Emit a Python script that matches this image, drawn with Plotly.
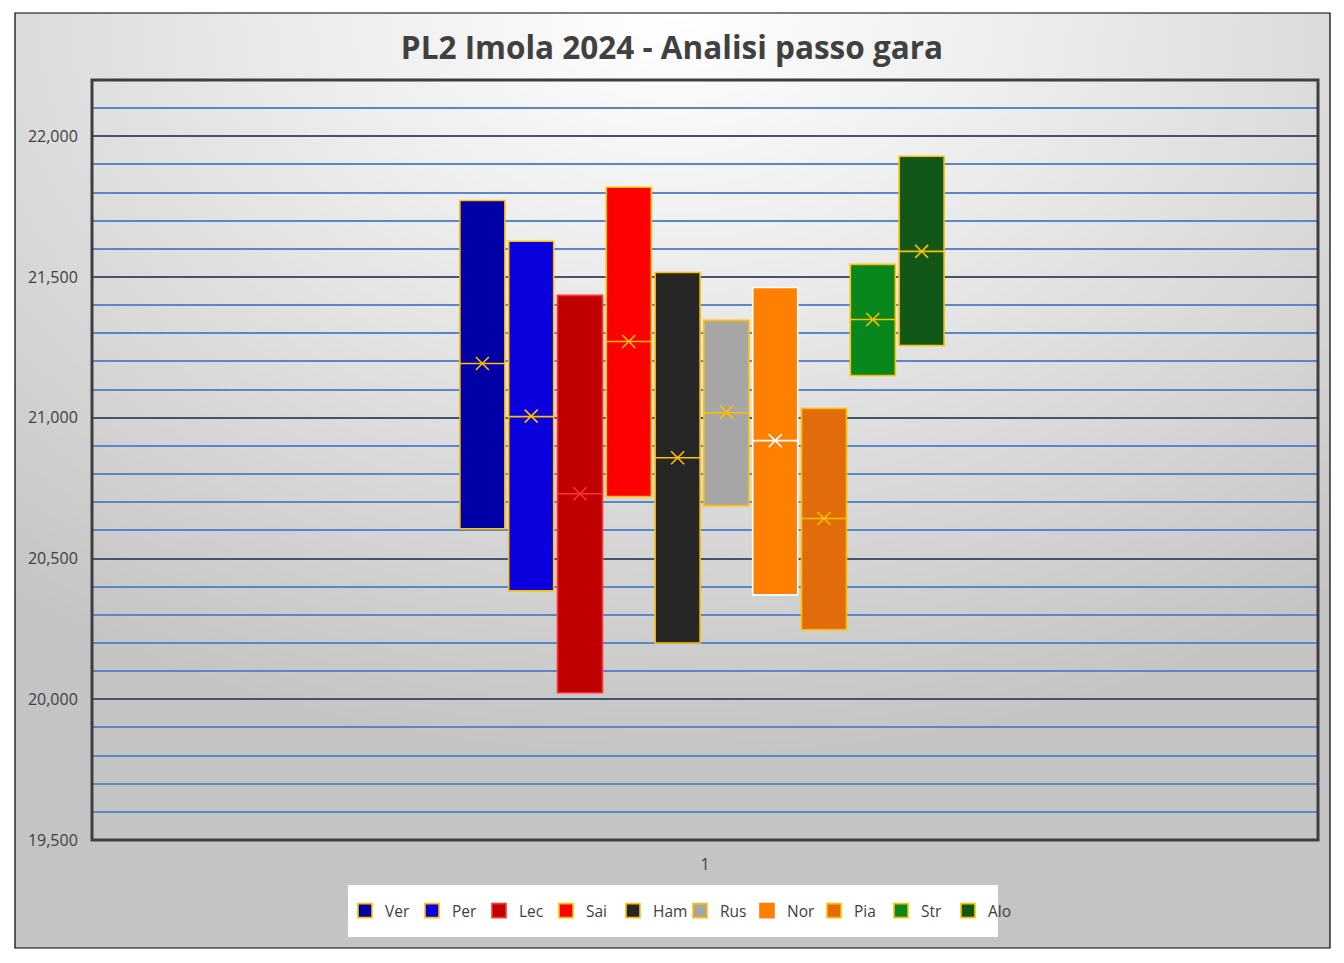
import base64
import plotly.graph_objects as go

drivers = ["Ver", "Per", "Lec", "Sai", "Ham", "Rus", "Nor", "Pia", "Str", "Alo"]
q3_vals = [21772, 21627, 21435, 21819, 21516, 21346, 21463, 21033, 21545, 21929]
q1_vals = [20606, 20385, 20023, 20720, 20200, 20688, 20371, 20247, 21150, 21257]
median_vals = [21193, 21004, 20730, 21271, 20858, 21018, 20919, 20642, 21349, 21591]
mean_vals = [21193, 21006, 20730, 21271, 20858, 21020, 20919, 20642, 21349, 21591]
fill_colors = ["#0000A6", "#0A00DE", "#C00000", "#FF0000", "#262626",
               "#A6A6A6", "#FF8000", "#E36C0A", "#08871E", "#115818"]
line_colors = ["#FFC000", "#FFC000", "#FF3333", "#FFC000", "#FFC000",
               "#FFC000", "#FFFFFF", "#FFC000", "#FFC000", "#FFC000"]
category_label = "1"
title_text = "PL2 Imola 2024 - Analisi passo gara"

# page offset (body margin) and target screen geometry
OFF = 8
W, H = 1328, 947
ml = 92 - OFF
mt = 80 - OFF
pw = 1318 - 92
ph = 840 - 80
mr = W - ml - pw
mb = H - mt - ph

slot = 48.8 / pw
box_w = 45.0 / pw
center = -3.0 / pw
n = len(drivers)

fig = go.Figure()
for i, d in enumerate(drivers):
    xpos = center + (i - (n - 1) / 2) * slot
    fig.add_trace(go.Box(
        name=d, x=[xpos],
        q1=[q1_vals[i]], median=[median_vals[i]], q3=[q3_vals[i]],
        lowerfence=[q1_vals[i]], upperfence=[q3_vals[i]],
        fillcolor=fill_colors[i],
        line=dict(color=line_colors[i], width=1.6),
        whiskerwidth=0, width=box_w, boxpoints=False,
        legendgroup=d, showlegend=False, hoverinfo="skip",
    ))
    fig.add_trace(go.Scatter(
        x=[xpos], y=[mean_vals[i]], mode="markers",
        marker=dict(symbol="x-thin-open", size=13, color=line_colors[i],
                    line=dict(color=line_colors[i], width=1.6)),
        showlegend=False, legendgroup=d, hoverinfo="skip",
    ))
    fig.add_trace(go.Scatter(
        name=d, x=[None], y=[None], mode="markers",
        marker=dict(symbol="square", size=14, color=fill_colors[i],
                    line=dict(color=line_colors[i] if line_colors[i] != "#FFFFFF" else fill_colors[i],
                              width=1.6)),
        legendgroup=d, showlegend=True, hoverinfo="skip",
    ))

def sx(px):
    return (px - 92) / pw

def sy(py):
    return (840 - py) / ph

svg = ('<svg xmlns="http://www.w3.org/2000/svg" width="1315" height="935" '
       'preserveAspectRatio="none"><defs><radialGradient id="g" cx="50%" cy="0%" r="80%">'
       '<stop offset="0" stop-color="#ffffff"/><stop offset="0.35" stop-color="#ececec"/>'
       '<stop offset="1" stop-color="#c4c4c4"/></radialGradient></defs>'
       '<rect width="1315" height="935" fill="url(#g)"/></svg>')
src = "data:image/svg+xml;base64," + base64.b64encode(svg.encode()).decode()

x0, x1 = sx(15), sx(1330)
y0, y1 = sy(948), sy(13)

fig.update_layout(
    width=W, height=H,
    margin=dict(l=ml, r=mr, t=mt, b=mb),
    paper_bgcolor="white", plot_bgcolor="rgba(0,0,0,0)",
    font=dict(family="Open Sans, Segoe UI, sans-serif", color="#404040", size=16),
    title=dict(text="<b>" + title_text + "</b>", x=(672 - OFF) / W, xanchor="center",
               y=1 - (48 - OFF) / H, yanchor="middle", yref="container",
               font=dict(size=31.5, color="#404040")),
    showlegend=True,
    legend=dict(orientation="h", x=sx(680), xanchor="center",
                y=sy(911), yanchor="middle",
                bgcolor="rgba(0,0,0,0)", font=dict(size=15.5, color="#404040"),
                itemwidth=30, traceorder="normal",
                entrywidth=22, entrywidthmode="pixels"),
    images=[dict(source=src, xref="paper", yref="paper", x=x0, y=y1,
                 sizex=x1 - x0, sizey=y1 - y0, sizing="stretch",
                 layer="below", xanchor="left", yanchor="top")],
    shapes=[
        dict(type="rect", xref="paper", yref="paper", x0=x0, x1=x1, y0=y0, y1=y1,
             line=dict(color="#000000", width=1.2), layer="below"),
        dict(type="rect", xref="paper", yref="paper", x0=sx(348), x1=sx(998),
             y0=sy(937), y1=sy(885), fillcolor="white", line=dict(width=0),
             layer="below"),
        dict(type="rect", xref="paper", yref="paper", x0=0, x1=1, y0=0, y1=1,
             line=dict(color="#3F3F3F", width=3), layer="above"),
    ],
    xaxis=dict(range=[-0.5, 0.5], tickvals=[0], ticktext=[category_label],
               showgrid=False, zeroline=False, showline=False,
               ticks="outside", ticklen=10, tickcolor="rgba(0,0,0,0)",
               tickfont=dict(size=16, color="#404040")),
    yaxis=dict(range=[19500, 22200], dtick=500, tick0=19500, tickformat=",",
               showgrid=True, gridcolor="#44546A", gridwidth=2,
               zeroline=False, showline=False,
               ticks="outside", ticklen=10, tickcolor="rgba(0,0,0,0)",
               tickfont=dict(size=16, color="#404040"),
               minor=dict(dtick=100, tick0=19500, showgrid=True,
                          gridcolor="#5B87C7", gridwidth=2)),
)

fig.write_html("out.html")
